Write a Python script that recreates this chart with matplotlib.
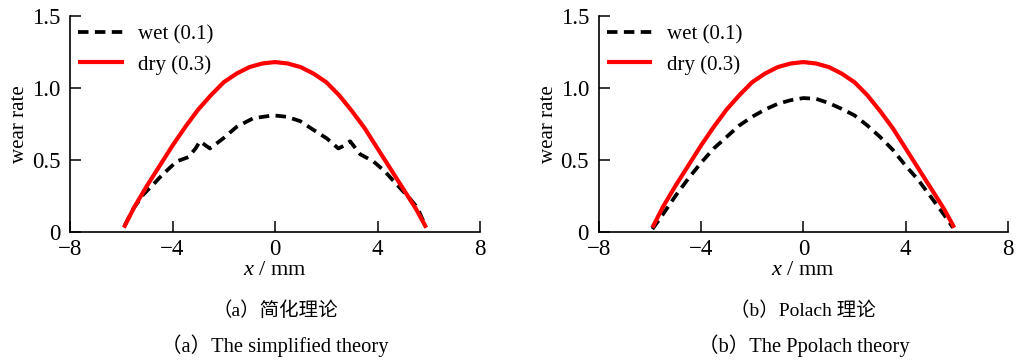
import matplotlib
matplotlib.use("Agg")
import matplotlib.pyplot as plt

plt.rcParams['font.family'] = ['Liberation Serif', 'Noto Sans CJK SC']
plt.rcParams['mathtext.fontset'] = 'custom'
plt.rcParams['mathtext.it'] = 'Liberation Serif:italic'
plt.rcParams['mathtext.rm'] = 'Liberation Serif'

# dry contact (friction 0.3), same in both theories
dry_x = [-5.9, -5.5, -5.0, -4.5, -4.0, -3.5, -3.0, -2.5, -2.0, -1.5, -1.0, -0.5, 0.0,
         0.5, 1.0, 1.5, 2.0, 2.5, 3.0, 3.5, 4.0, 4.5, 5.0, 5.5, 5.9]
dry_y = [0.03, 0.17, 0.32, 0.46, 0.60, 0.73, 0.85, 0.95, 1.04, 1.10, 1.145, 1.17, 1.18,
         1.17, 1.145, 1.10, 1.04, 0.95, 0.84, 0.72, 0.58, 0.44, 0.30, 0.16, 0.03]

# wet contact (friction 0.1), simplified theory
wet_a_x = [-5.85, -5.5, -5.14, -4.75, -4.49, -4.2, -3.84, -3.38, -3.1, -2.93, -2.7, -2.54,
           -2.02, -1.5, -0.85, -0.07, 0.46, 0.98, 1.49, 2.02, 2.47, 2.7, 2.93, 3.32,
           3.84, 4.29, 4.75, 5.27, 5.55, 5.85]
wet_a_y = [0.05, 0.17, 0.26, 0.33, 0.38, 0.43, 0.49, 0.52, 0.58, 0.63, 0.60, 0.58,
           0.65, 0.73, 0.79, 0.81, 0.80, 0.77, 0.71, 0.65, 0.58, 0.60, 0.63, 0.54,
           0.49, 0.42, 0.33, 0.23, 0.17, 0.05]

# wet contact (friction 0.1), Polach theory
wet_b_x = [-5.9, -5.5, -5.0, -4.5, -4.0, -3.5, -3.0, -2.5, -2.0, -1.5, -1.0, -0.5, 0.0,
           0.5, 1.0, 1.5, 2.0, 2.5, 3.0, 3.5, 4.0, 4.5, 5.0, 5.5, 5.85]
wet_b_y = [0.02, 0.12, 0.25, 0.37, 0.48, 0.58, 0.66, 0.74, 0.80, 0.85, 0.89, 0.915, 0.93,
           0.925, 0.895, 0.855, 0.81, 0.74, 0.66, 0.57, 0.46, 0.36, 0.24, 0.12, 0.03]

x_ticks = [-8, -4, 0, 4, 8]
x_tick_labels = ['\u22128', '\u22124', '0', '4', '8']
y_ticks = [0, 0.5, 1.0, 1.5]
y_tick_labels = ['0', '0.5', '1.0', '1.5']

captions_cn = ['（a）简化理论', '（b）Polach 理论']
captions_en = ['（a）The simplified theory', '（b）The Ppolach theory']

fig = plt.figure(figsize=(10.19, 3.6), dpi=100)
ax_a = fig.add_axes([0.0687, 0.3556, 0.4024, 0.6])
ax_b = fig.add_axes([0.5875, 0.3556, 0.4017, 0.6])

for ax, wx, wy, cn, en in [(ax_a, wet_a_x, wet_a_y, captions_cn[0], captions_en[0]),
                           (ax_b, wet_b_x, wet_b_y, captions_cn[1], captions_en[1])]:
    ax.plot(wx, wy, color='black', lw=2.7, dashes=(2.8, 1.7), label='wet (0.1)',
            dash_joinstyle='round')
    ax.plot(dry_x, dry_y, color='#ff0000', lw=3.0, label='dry (0.3)',
            solid_capstyle='butt', solid_joinstyle='round')
    ax.set_xlim(-8, 8)
    ax.set_ylim(0, 1.5)
    ax.set_xticks(x_ticks)
    ax.set_xticklabels(x_tick_labels)
    ax.set_yticks(y_ticks)
    ax.set_yticklabels(y_tick_labels)
    ax.tick_params(direction='in', length=8, width=1.1, labelsize=16.5)
    ax.tick_params(axis='x', pad=5)
    ax.tick_params(axis='y', pad=7)
    for side in ('top', 'right'):
        ax.spines[side].set_visible(False)
    for side in ('left', 'bottom'):
        ax.spines[side].set_linewidth(1.2)
    ax.set_xlabel('$x$ / mm', fontsize=16, labelpad=0.5)
    ax.set_ylabel('wear rate', fontsize=15, labelpad=2)
    ax.legend(loc='upper left', bbox_to_anchor=(0.0195, 0.958), frameon=False,
              fontsize=15, handlelength=2.2, handletextpad=0.7, labelspacing=0.5,
              borderpad=0, borderaxespad=0)
    ax.text(0.5, -0.366, cn, transform=ax.transAxes, ha='center', va='center',
            fontsize=14)
    ax.text(0.5, -0.528, en, transform=ax.transAxes, ha='center', va='center',
            fontsize=14.8)

fig.savefig('out.png', dpi=100)
